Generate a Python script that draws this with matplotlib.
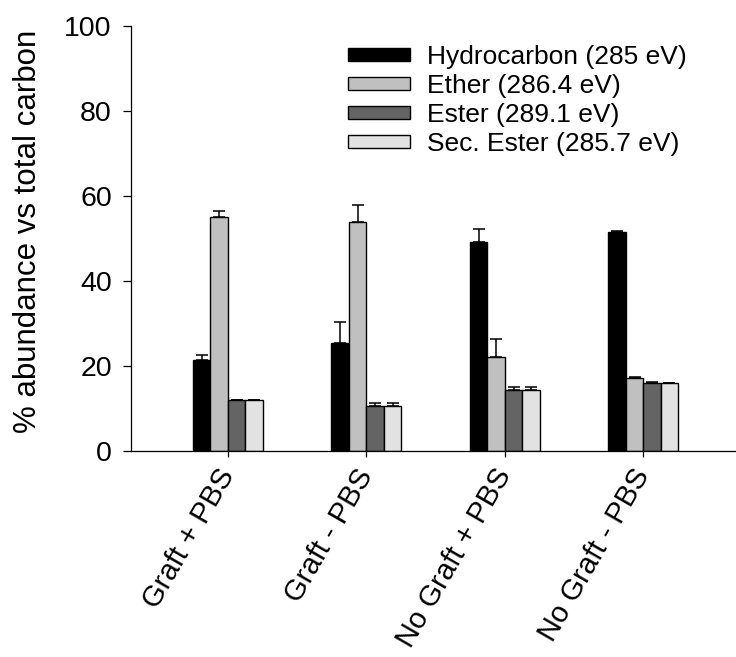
import matplotlib
matplotlib.use("Agg")
import matplotlib.pyplot as plt
import matplotlib.transforms as mtransforms
import numpy as np

plt.rcParams['font.family'] = ['Liberation Sans', 'DejaVu Sans']

categories = ["Graft + PBS", "Graft - PBS", "No Graft + PBS", "No Graft - PBS"]
series_names = ["Hydrocarbon (285 eV)", "Ether (286.4 eV)", "Ester (289.1 eV)", "Sec. Ester (285.7 eV)"]
hydrocarbon = [21.3, 25.3, 49.1, 51.4]
hydrocarbon_err = [1.2, 5.1, 3.1, 0.4]
ether = [55.1, 53.9, 22.1, 17.0]
ether_err = [1.4, 3.8, 4.1, 0.3]
ester = [11.9, 10.5, 14.4, 16.0]
ester_err = [0.1, 0.7, 0.7, 0.1]
sec_ester = [11.9, 10.5, 14.4, 15.9]
sec_ester_err = [0.1, 0.7, 0.7, 0.1]
yticks = [0, 20, 40, 60, 80, 100]

values = [hydrocarbon, ether, ester, sec_ester]
errors = [hydrocarbon_err, ether_err, ester_err, sec_ester_err]
colors = ["#000000", "#c0c0c0", "#646464", "#e2e2e2"]

fig = plt.figure(figsize=(7.36, 6.57), dpi=100)
ax = fig.add_axes([131/736, 1 - 450.7/657, 1 - 131/736, (450.7 - 25.7)/657])

x = np.arange(len(categories))
w = 0.126
for i, (vals, errs, c, name) in enumerate(zip(values, errors, colors, series_names)):
    pos = x + (i - 1.5) * w
    ax.bar(pos, vals, width=w, color=c, edgecolor="black", linewidth=1.0, label=name, zorder=2)
    ax.errorbar(pos, vals, yerr=[np.zeros(len(vals)), errs], fmt="none", ecolor="black",
                elinewidth=1.1, capsize=4.5, capthick=1.1, zorder=3)

ax.set_xlim(-0.70, 3.67)
ax.set_ylim(0, 100)
ax.set_yticks(yticks)
ax.set_yticklabels([str(t) for t in yticks], fontsize=20.5)
ax.set_xticks(x)
ax.set_xticklabels(categories, fontsize=21, rotation=60, ha="right", va="center",
                   rotation_mode="anchor")
offset = mtransforms.ScaledTranslation(5/100, -6/100, fig.dpi_scale_trans)
for lab in ax.get_xticklabels():
    lab.set_transform(lab.get_transform() + offset)
ax.tick_params(axis="y", direction="out", length=5.8, width=0.9, pad=8)
ax.tick_params(axis="x", direction="out", length=4.5, width=0.9, pad=10)
for s in ["top", "right"]:
    ax.spines[s].set_visible(False)
for s in ["left", "bottom"]:
    ax.spines[s].set_linewidth(0.9)
ax.set_ylabel("% abundance vs total carbon", fontsize=22.5)
ax.yaxis.set_label_coords(-0.145, 0.517)

leg = ax.legend(loc="upper left", bbox_to_anchor=(348/736, 1 - 45/657),
                bbox_transform=fig.transFigure, frameon=False, fontsize=19,
                handlelength=2.35, handleheight=0.38, labelspacing=0.19, handletextpad=0.64,
                borderaxespad=0, borderpad=0)

fig.savefig("out.png", dpi=100)
